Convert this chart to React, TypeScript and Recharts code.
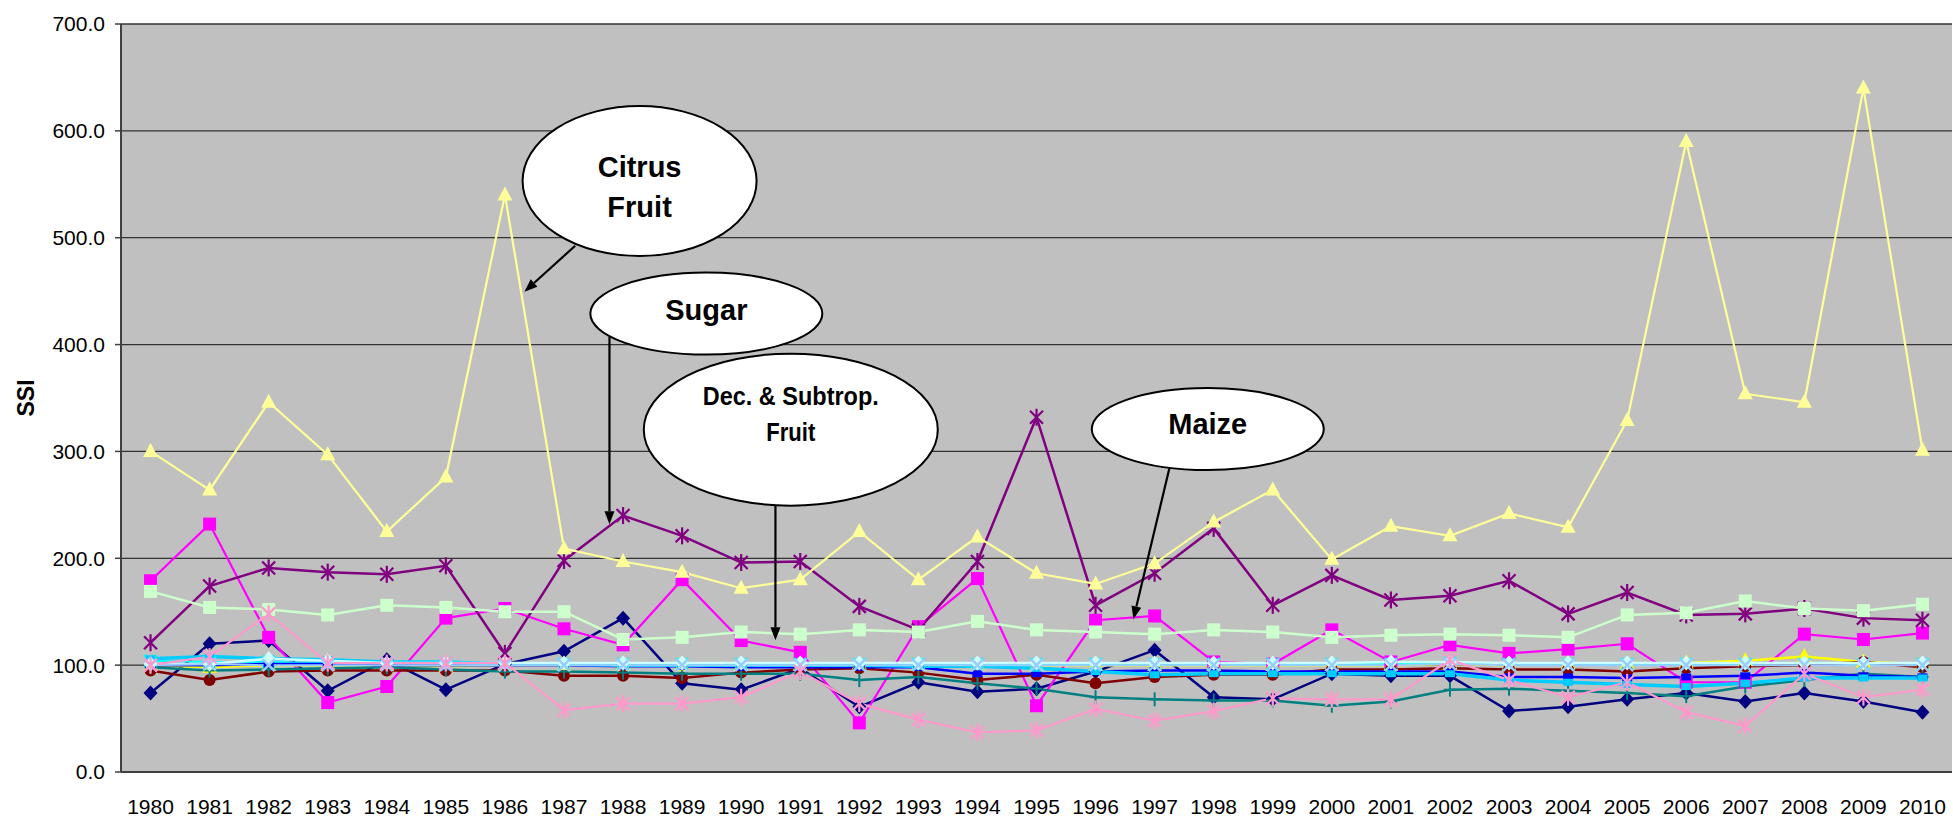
import React from "react";
import {
  LineChart,
  Line,
  XAxis,
  YAxis,
  CartesianGrid,
  ReferenceDot,
  ReferenceLine,
} from "recharts";

const years = [
  1980, 1981, 1982, 1983, 1984, 1985, 1986, 1987, 1988, 1989, 1990, 1991, 1992, 1993, 1994, 1995,
  1996, 1997, 1998, 1999, 2000, 2001, 2002, 2003, 2004, 2005, 2006, 2007, 2008, 2009, 2010,
];
const yTicks = [0, 100, 200, 300, 400, 500, 600, 700];

const navy = [74, 120, 123, 76, 105, 77, 101, 113, 144, 83, 77, 97, 61, 84, 75, 78, 94, 114, 70, 68, 92, 90, 90, 57, 61, 68, 74, 66, 74, 66, 56];
const maize = [179, 232, 126, 65, 80, 144, 153, 134, 119, 180, 123, 112, 46, 136, 181, 62, 142, 146, 103, 101, 133, 103, 119, 111, 115, 120, 84, 84, 129, 124, 130];
const yellow = [100, 98, 100, 100, 100, 99, 100, 100, 100, 100, 100, 100, 101, 100, 100, 100, 100, 100, 100, 100, 100, 100, 101, 100, 101, 101, 102, 104, 108, 103, 101];
const cyan = [104, 103, 103, 102, 102, 102, 101, 101, 101, 101, 101, 101, 101, 101, 101, 101, 101, 101, 101, 101, 101, 101, 102, 101, 101, 101, 101, 101, 101, 101, 101];
const sugar = [121, 174, 191, 187, 185, 193, 111, 198, 240, 221, 196, 197, 155, 133, 197, 332, 156, 186, 228, 156, 184, 161, 165, 179, 148, 168, 147, 148, 153, 144, 142];
const darkRed = [95, 86, 94, 95, 95, 95, 95, 90, 90, 88, 93, 96, 97, 93, 86, 91, 83, 89, 91, 91, 96, 96, 97, 96, 96, 94, 97, 99, 100, 103, 98];
const teal = [98, 95, 96, 97, 98, 96, 94, 94, 93, 92, 92, 92, 86, 89, 83, 78, 70, 68, 67, 67, 62, 66, 77, 78, 76, 74, 71, 80, 86, 92, 89];
const blue = [100, 100, 101, 101, 100, 100, 100, 100, 99, 99, 98, 98, 98, 98, 92, 92, 94, 95, 95, 94, 94, 94, 94, 89, 89, 88, 89, 90, 93, 90, 89];
const sky = [106, 108, 106, 105, 103, 103, 101, 101, 100, 100, 100, 100, 100, 99, 99, 97, 94, 91, 92, 92, 92, 92, 92, 86, 84, 82, 80, 83, 88, 88, 88];
const turquoise = [101, 101, 106, 104, 102, 102, 102, 102, 102, 102, 102, 102, 102, 102, 102, 102, 102, 102, 102, 102, 102, 103, 103, 102, 102, 102, 102, 102, 102, 102, 102];
const decFruit = [169, 154, 152, 147, 156, 154, 150, 150, 124, 126, 131, 129, 133, 131, 141, 133, 131, 129, 133, 131, 126, 128, 129, 128, 126, 147, 149, 160, 153, 151, 157];
const citrus = [300, 264, 346, 297, 225, 276, 540, 209, 197, 187, 172, 180, 225, 180, 220, 186, 176, 195, 234, 264, 199, 230, 221, 242, 229, 329, 590, 354, 346, 640, 301];
const paleBlue = [100, 101, 100, 100, 100, 100, 100, 100, 100, 100, 100, 100, 100, 100, 100, 100, 100, 100, 100, 100, 100, 100, 101, 100, 100, 100, 100, 100, 100, 100, 100];
const pink = [100, 108, 148, 102, 102, 102, 102, 58, 64, 64, 70, 94, 64, 49, 37, 39, 59, 48, 57, 69, 68, 68, 105, 86, 70, 84, 56, 43, 92, 70, 77];

// excel draw order: later series sit on top
const series = [
  { key: "navy", values: navy, color: "#000080", marker: "diamond", width: 2.5 },
  { key: "maize", values: maize, color: "#FF00FF", marker: "square", width: 2.2 },
  { key: "yellow", values: yellow, color: "#FFFF00", marker: "triangle", width: 2.5 },
  { key: "cyan", values: cyan, color: "#00FFFF", marker: "x", width: 2 },
  { key: "sugar", values: sugar, color: "#800080", marker: "star", width: 2.5 },
  { key: "darkRed", values: darkRed, color: "#800000", marker: "circle", width: 2.5 },
  { key: "teal", values: teal, color: "#008080", marker: "plus", width: 2.5 },
  { key: "blue", values: blue, color: "#0000FF", marker: "dash", width: 2.5 },
  { key: "sky", values: sky, color: "#00CCFF", marker: "dash", width: 3.5 },
  { key: "turquoise", values: turquoise, color: "#CCFFFF", marker: "diamond", width: 2.5 },
  { key: "decFruit", values: decFruit, color: "#CCFFCC", marker: "square", width: 2.5 },
  { key: "citrus", values: citrus, color: "#FFFF99", marker: "triangle", width: 2.2 },
  { key: "paleBlue", values: paleBlue, color: "#99CCFF", marker: "x", width: 2 },
  { key: "pink", values: pink, color: "#FF99CC", marker: "star", width: 2.2 },
];

const rows = years.map((year, i) => {
  const row: Record<string, number> = { year };
  series.forEach((s) => (row[s.key] = s.values[i]));
  return row;
});

const tickEdges = [...years.map((y) => y - 0.5), years[years.length - 1] + 0.5];

// callouts, placed in data coords
const bubbles = [
  { lines: ["Citrus", "Fruit"], x: 1988.28, y: 553, rx: 117, ry: 75, size: 29, dy: [-4, 36] },
  { lines: ["Sugar"], x: 1989.41, y: 429, rx: 116, ry: 41, size: 29, dy: [6] },
  { lines: ["Dec. & Subtrop.", "Fruit"], x: 1990.84, y: 320.4, rx: 147, ry: 76, size: 25, dy: [-25, 11], fit: [176, 49] },
  { lines: ["Maize"], x: 1997.9, y: 320.9, rx: 116, ry: 41, size: 29, dy: [5] },
];
const arrows = [
  { from: { x: 1987.19, y: 492.5 }, to: { x: 1986.33, y: 449.4 } },
  { from: { x: 1987.77, y: 407 }, to: { x: 1987.77, y: 231.9 } },
  { from: { x: 1990.58, y: 249.7 }, to: { x: 1990.58, y: 123.3 } },
  { from: { x: 1997.25, y: 284.3 }, to: { x: 1996.64, y: 143 } },
];

function Marker({ cx, cy, type, color }: any) {
  if (cx == null || cy == null) return null;
  switch (type) {
    case "diamond":
      return <polygon points={`${cx},${cy - 7.5} ${cx + 7},${cy} ${cx},${cy + 7.5} ${cx - 7},${cy}`} fill={color} />;
    case "square":
      return <rect x={cx - 6.5} y={cy - 6.5} width={13} height={13} fill={color} />;
    case "triangle":
      return <polygon points={`${cx},${cy - 8.5} ${cx + 7.5},${cy + 5.5} ${cx - 7.5},${cy + 5.5}`} fill={color} />;
    case "circle":
      return <circle cx={cx} cy={cy} r={6} fill={color} />;
    case "dash":
      return <rect x={cx - 5} y={cy - 3.5} width={10} height={7} fill={color} />;
    case "plus":
      return (
        <g stroke={color} strokeWidth={2}>
          <line x1={cx - 6} y1={cy} x2={cx + 6} y2={cy} />
          <line x1={cx} y1={cy - 7} x2={cx} y2={cy + 7} />
        </g>
      );
    case "x":
      return (
        <g stroke={color} strokeWidth={2.5}>
          <line x1={cx - 6} y1={cy - 6} x2={cx + 6} y2={cy + 6} />
          <line x1={cx - 6} y1={cy + 6} x2={cx + 6} y2={cy - 6} />
        </g>
      );
    default:
      return (
        <g stroke={color} strokeWidth={2.2}>
          <line x1={cx - 6.5} y1={cy - 6.5} x2={cx + 6.5} y2={cy + 6.5} />
          <line x1={cx - 6.5} y1={cy + 6.5} x2={cx + 6.5} y2={cy - 6.5} />
          <line x1={cx} y1={cy - 8.5} x2={cx} y2={cy + 8.5} />
        </g>
      );
  }
}

function Arrow({ x1, y1, x2, y2 }: any) {
  const a = Math.atan2(y2 - y1, x2 - x1);
  const len = 13;
  const half = 5;
  const bx = x2 - len * Math.cos(a);
  const by = y2 - len * Math.sin(a);
  const px = -Math.sin(a) * half;
  const py = Math.cos(a) * half;
  return (
    <g>
      <line x1={x1} y1={y1} x2={bx} y2={by} stroke="#000" strokeWidth={2.2} />
      <polygon points={`${x2},${y2} ${bx + px},${by + py} ${bx - px},${by - py}`} fill="#000" />
    </g>
  );
}

function Bubble({ cx, cy, b }: any) {
  return (
    <g>
      <ellipse cx={cx} cy={cy} rx={b.rx} ry={b.ry} fill="#fff" stroke="#000" strokeWidth={2} />
      {b.lines.map((t: string, i: number) => (
        <text
          key={t}
          x={cx}
          y={cy + b.dy[i]}
          textAnchor="middle"
          fontSize={b.size}
          fontWeight="bold"
          fill="#000"
          {...(b.fit ? { textLength: b.fit[i], lengthAdjust: "spacingAndGlyphs" } : {})}
        >
          {t}
        </text>
      ))}
    </g>
  );
}

export default function App() {
  return (
    <div
      style={{
        position: "absolute",
        top: 0,
        left: 0,
        width: 1953,
        height: 818,
        background: "#fff",
        fontFamily: '"Liberation Sans", Arial, sans-serif',
      }}
    >
      <LineChart width={1953} height={818} data={rows} margin={{ top: 24, right: 1, bottom: 0, left: 0 }}>
        <CartesianGrid xAxisId="a" vertical={false} fill="#C0C0C0" fillOpacity={1} stroke="#333" strokeWidth={1.3} />
        <XAxis
          xAxisId="t"
          dataKey="year"
          type="number"
          domain={[1979.5, 2010.5]}
          ticks={tickEdges}
          interval={0}
          tick={false}
          height={0}
          tickSize={6}
          axisLine={false}
          tickLine={{ stroke: "#404040", strokeWidth: 1.5 }}
        />
        <XAxis
          xAxisId="a"
          dataKey="year"
          type="number"
          domain={[1979.5, 2010.5]}
          ticks={years}
          interval={0}
          height={46}
          tickLine={false}
          tickSize={6}
          tickMargin={21}
          axisLine={{ stroke: "#404040", strokeWidth: 2 }}
          tick={{ fontSize: 21, fill: "#000" }}
        />
        <YAxis
          domain={[0, 700]}
          ticks={yTicks}
          interval={0}
          width={121}
          tickFormatter={(v: number) => v.toFixed(1)}
          tick={{ fontSize: 21, fill: "#000" }}
          tickSize={6}
          tickMargin={10}
          axisLine={{ stroke: "#404040", strokeWidth: 2 }}
          tickLine={{ stroke: "#404040", strokeWidth: 1.5 }}
          label={{
            content: ({ viewBox }: any) => {
              const x = viewBox.x + 34;
              const y = viewBox.y + viewBox.height / 2;
              return (
                <text x={x} y={y} transform={`rotate(-90 ${x} ${y})`} textAnchor="middle" fontSize={23} fontWeight="bold" fill="#000">
                  SSI
                </text>
              );
            },
          }}
        />
        {series.map((s) => (
          <Line
            key={s.key}
            xAxisId="a"
            dataKey={s.key}
            stroke={s.color}
            strokeWidth={s.width}
            isAnimationActive={false}
            activeDot={false}
            dot={(p: any) => <Marker key={`${s.key}-${p.index}`} cx={p.cx} cy={p.cy} type={s.marker} color={s.color} />}
          />
        ))}
        {arrows.map((a, i) => (
          <ReferenceLine key={`arrow-${i}`} xAxisId="a" segment={[a.from, a.to]} shape={(p: any) => <Arrow {...p} />} />
        ))}
        {bubbles.map((b) => (
          <ReferenceDot
            key={b.lines.join(" ")}
            xAxisId="a"
            x={b.x}
            y={b.y}
            shape={(p: any) => <Bubble cx={p.cx} cy={p.cy} b={b} />}
          />
        ))}
      </LineChart>
    </div>
  );
}
